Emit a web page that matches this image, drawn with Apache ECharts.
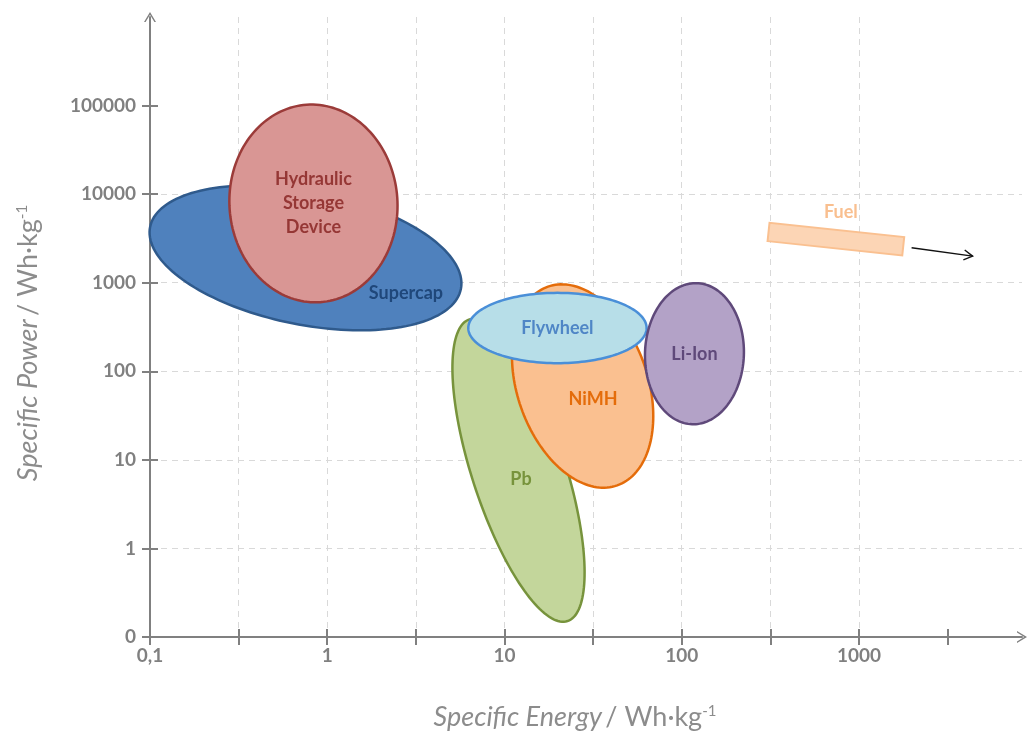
<!DOCTYPE html>
<html>
<head>
<meta charset="utf-8">
<title>Ragone plot</title>
<script src="https://cdn.jsdelivr.net/npm/echarts@6/dist/echarts.min.js"></script>
<style>
  html, body { margin: 0; padding: 0; background: #ffffff; }
  #chart { width: 1031px; height: 736px; }
</style>
</head>
<body>
<div id="chart"></div>
<script>
// ---- data -------------------------------------------------------------
// Storage technologies (drawn bottom to top)
const techNames = ['Pb', 'NiMH', 'Flywheel', 'Li-Ion', 'Supercap', 'Hydraulic\nStorage\nDevice'];
// centre of each region: specific energy (Wh/kg) and specific power
const centreEnergy = [12.0, 27.6, 19.9, 118, 0.754, 0.836];
const centrePower  = [7.64, 68.2, 308, 158, 1905, 7850];
// half-extent of each region, in decades of energy / decades of power
const spreadEnergy = [0.263, 0.368, 0.503, 0.279, 0.894, 0.474];
const spreadPower  = [1.791, 1.188, 0.397, 0.797, 0.753, 1.117];
// tilt of each region (degrees, clockwise on screen)
const tiltDeg = [-18, -19.2, 0, 2, 11.3, -4];
// where each name sits
const labelEnergy = [12.4, 31.6, 19.9, 118, 2.78, 0.836];
const labelPower  = [6.05, 48.3, 308, 158, 759, 7850];

// Fuel band (start / end) and the arrow pointing beyond the axis
const fuelEnergy = [309, 1778];
const fuelPower  = [3740, 2582];
const fuelLabelEnergy = 791;
const fuelLabelPower  = 6210;
const arrowEnergy = [1982, 4380];
const arrowPower  = [2483, 1995];

// tick labels
const energyTickValues = [0.1, 1, 10, 100, 1000];
const energyTickLabels = ['0,1', '1', '10', '100', '1000'];
const powerTickValues  = [0.1, 1, 10, 100, 1000, 10000, 100000];
const powerTickLabels  = ['0', '1', '10', '100', '1000', '10000', '100000'];

// ---- styles -----------------------------------------------------------
const fills   = ['#c3d69b', '#fac090', '#b7dee8', '#b3a2c7', '#4f81bd', '#d99694'];
const strokes = ['#77933c', '#e46c0a', '#4a8fd8', '#5f497a', '#2f5a8c', '#9b3b39'];
const textCol = ['#77933c', '#e46c0a', '#4f86c6', '#5f497a', '#1f477a', '#953735'];
const axisGrey = '#808080';
const gridGrey = '#d9d9d9';
const titleGrey = '#8c8c8c';
const FONT = 'Lato, "Open Sans", sans-serif';
const chevron = 'path://M6,0 L12,10 L10.4,10 L6,2.8 L1.6,10 L0,10 Z';

const lg = Math.log10;

function makeFormatter(values, labels) {
  return function (v) {
    for (let i = 0; i < values.length; i++) {
      if (Math.abs(lg(values[i]) - v) < 1e-6) return labels[i];
    }
    return '';
  };
}

const X_MIN = -1, X_MAX = 3.92, Y_MIN = -1, Y_MAX = 6;
const halfDecades = [];
for (let v = X_MIN; v <= 3.5 + 1e-9; v += 0.5) halfDecades.push(+v.toFixed(1));
const powerDecades = powerTickValues.map(lg);

const regionData = techNames.map((n, i) => [lg(centreEnergy[i]), lg(centrePower[i]), spreadEnergy[i], spreadPower[i], tiltDeg[i], i]);
const labelData = techNames.map((n, i) => [lg(labelEnergy[i]), lg(labelPower[i]), i]);

function renderRegion(params, api) {
  const c = api.coord([api.value(0), api.value(1)]);
  const s = api.size([api.value(2), api.value(3)]);
  const t = api.value(4) * Math.PI / 180;
  const i = api.value(5);
  const pts = [];
  const N = 160;
  for (let k = 0; k < N; k++) {
    const u = 2 * Math.PI * k / N;
    const ex = s[0] * Math.cos(u), ey = s[1] * Math.sin(u);
    pts.push([c[0] + ex * Math.cos(t) - ey * Math.sin(t), c[1] + ex * Math.sin(t) + ey * Math.cos(t)]);
  }
  return {
    type: 'polygon',
    shape: { points: pts },
    style: { fill: fills[i], stroke: strokes[i], lineWidth: 2.5 }
  };
}

function renderLabel(params, api) {
  const c = api.coord([api.value(0), api.value(1)]);
  const i = api.value(2);
  return {
    type: 'text',
    x: c[0], y: c[1],
    style: {
      text: techNames[i], fill: textCol[i],
      fontFamily: FONT, fontWeight: 'bold', fontSize: 18, lineHeight: 24,
      align: 'center', verticalAlign: 'middle'
    }
  };
}

function renderFuel(params, api) {
  const p1 = api.coord([lg(fuelEnergy[0]), lg(fuelPower[0])]);
  const p2 = api.coord([lg(fuelEnergy[1]), lg(fuelPower[1])]);
  const dx = p2[0] - p1[0], dy = p2[1] - p1[1];
  const len = Math.hypot(dx, dy), h = 9.2;
  const nx = -dy / len * h, ny = dx / len * h;
  const band = [[p1[0] + nx, p1[1] + ny], [p2[0] + nx, p2[1] + ny], [p2[0] - nx, p2[1] - ny], [p1[0] - nx, p1[1] - ny]];
  const lp = api.coord([lg(fuelLabelEnergy), lg(fuelLabelPower)]);
  const a1 = api.coord([lg(arrowEnergy[0]), lg(arrowPower[0])]);
  const a2 = api.coord([lg(arrowEnergy[1]), lg(arrowPower[1])]);
  const ang = Math.atan2(a2[1] - a1[1], a2[0] - a1[0]);
  const head = 10, spread = 0.52;
  const hA = [a2[0] - head * Math.cos(ang - spread), a2[1] - head * Math.sin(ang - spread)];
  const hB = [a2[0] - head * Math.cos(ang + spread), a2[1] - head * Math.sin(ang + spread)];
  return {
    type: 'group',
    children: [
      { type: 'polygon', shape: { points: band }, style: { fill: '#fcd5b5', stroke: '#fac090', lineWidth: 2 } },
      { type: 'text', x: lp[0], y: lp[1], style: { text: 'Fuel', fill: '#f9bf8f', fontFamily: FONT, fontWeight: 'bold', fontSize: 18, align: 'center', verticalAlign: 'middle' } },
      { type: 'line', shape: { x1: a1[0], y1: a1[1], x2: a2[0], y2: a2[1] }, style: { stroke: '#111111', lineWidth: 1.4 } },
      { type: 'polyline', shape: { points: [hA, a2, hB] }, style: { stroke: '#111111', lineWidth: 1.4, fill: null } }
    ]
  };
}

const labelFont = { color: axisGrey, fontFamily: FONT, fontWeight: 'bold', fontSize: 19 };
const titleRich = {
  it:  { fontFamily: FONT, fontSize: 27, fontStyle: 'italic', color: titleGrey },
  up:  { fontFamily: FONT, fontSize: 27, color: titleGrey },
  sup: { fontFamily: FONT, fontSize: 15, color: titleGrey, verticalAlign: 'top' }
};

const chart = echarts.init(document.getElementById('chart'), null, { renderer: 'canvas' });
chart.setOption({
  animation: false,
  backgroundColor: '#ffffff',
  grid: { left: 150, right: 9, top: 17, bottom: 99, containLabel: false },
  xAxis: [
    {
      type: 'value', min: X_MIN, max: X_MAX, interval: 0.5, position: 'bottom',
      axisLine: { show: true, onZero: false, symbol: ['none', chevron], symbolSize: [12, 10], lineStyle: { color: axisGrey, width: 2 } },
      axisTick: { show: true, length: 8, customValues: halfDecades, lineStyle: { color: axisGrey, width: 2 } },
      axisLabel: Object.assign({ margin: 9, customValues: energyTickValues.map(lg), formatter: makeFormatter(energyTickValues, energyTickLabels) }, labelFont),
      splitLine: { show: true, showMinLine: false, showMaxLine: false, lineStyle: { color: gridGrey, width: 1, type: [6, 5] } },
      name: '{it|Specific Energy} {up|/ Wh·kg}{sup|-1}',
      nameLocation: 'middle', nameGap: 67,
      nameTextStyle: { padding: [0, 22, 0, 0], rich: titleRich }
    },
    {
      type: 'value', min: X_MIN, max: X_MAX, interval: 0.5, position: 'bottom',
      axisLine: { show: false, onZero: false },
      axisTick: { show: true, inside: true, length: 8, customValues: halfDecades, lineStyle: { color: axisGrey, width: 2 } },
      axisLabel: { show: false }, splitLine: { show: false }
    }
  ],
  yAxis: [
    {
      type: 'value', min: Y_MIN, max: Y_MAX, interval: 1, position: 'left',
      axisLine: { show: true, onZero: false, symbol: ['none', chevron], symbolSize: [12, 10], lineStyle: { color: axisGrey, width: 2 } },
      axisTick: { show: true, length: 8, customValues: powerDecades, lineStyle: { color: axisGrey, width: 2 } },
      axisLabel: Object.assign({ margin: 14, customValues: powerDecades, formatter: makeFormatter(powerTickValues, powerTickLabels) }, labelFont),
      splitLine: { show: true, showMinLine: false, showMaxLine: false, lineStyle: { color: gridGrey, width: 1, type: [6, 5] } },
      name: '{it|Specific Power} {up|/ Wh·kg}{sup|-1}',
      nameLocation: 'middle', nameGap: 108,
      nameTextStyle: { padding: [0, 32, 0, 0], rich: titleRich }
    },
    {
      type: 'value', min: Y_MIN, max: Y_MAX, interval: 1, position: 'left',
      axisLine: { show: false, onZero: false },
      axisTick: { show: true, inside: true, length: 8, customValues: powerDecades, lineStyle: { color: axisGrey, width: 2 } },
      axisLabel: { show: false }, splitLine: { show: false }
    }
  ],
  series: [
    { type: 'custom', name: 'regions', xAxisIndex: 0, yAxisIndex: 0, renderItem: renderRegion, data: regionData, z: 3 },
    { type: 'custom', name: 'fuel', xAxisIndex: 0, yAxisIndex: 0, renderItem: renderFuel, data: [[lg(fuelEnergy[0]), lg(fuelPower[0])]], z: 3 },
    { type: 'custom', name: 'names', xAxisIndex: 0, yAxisIndex: 0, renderItem: renderLabel, data: labelData, z: 4 }
  ]
});
</script>
</body>
</html>
